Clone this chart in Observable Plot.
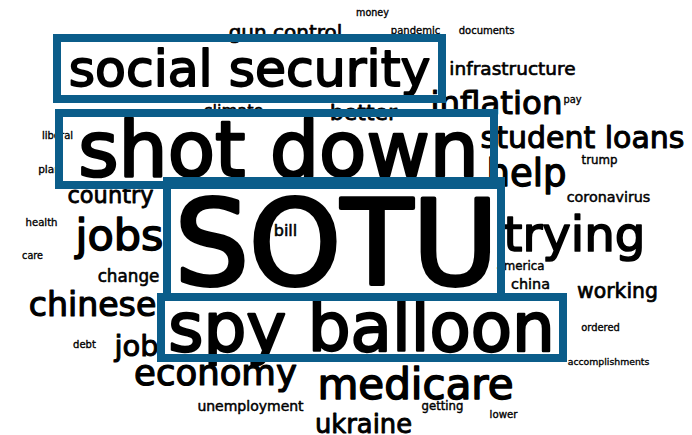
<!DOCTYPE html>
<html>
<head>
<meta charset="utf-8">
<script src="https://cdn.jsdelivr.net/npm/d3@7"></script>
<script src="https://cdn.jsdelivr.net/npm/@observablehq/plot@0.6"></script>
<style>
  html, body { margin: 0; padding: 0; background: #fff; }
  #chart { width: 692px; height: 435px; }
</style>
</head>
<body>
<div id="chart"></div>
<script>
// Word cloud terms, layout position (cloud units: centre x, baseline y) and size
const words = [
  "gun control", "money", "pandemic", "documents", "infrastructure", "inflation", "pay",
  "social security", "climate", "better", "shot down", "student loans", "help", "trump",
  "coronavirus", "trying", "america", "china", "working", "ordered", "accomplishments",
  "country", "liberal", "plan", "health", "care", "jobs", "change", "chinese", "debt",
  "job", "economy", "unemployment", "medicare", "getting", "lower", "ukraine", "bill",
  "SOTU", "spy balloon"
];
const wordX = [
  285, 372, 415, 486, 512, 496, 572,
  249, 233, 363, 278, 582, 526, 599,
  608, 574, 520, 530, 617, 600, 608,
  110, 57, 49, 41, 32, 119, 128, 92, 84,
  136, 215, 250, 415, 442, 503, 363, 285,
  336, 361
];
const wordY = [
  38, 15, 33, 33, 74, 113, 102,
  85, 115, 119, 175, 147, 185, 163,
  201, 250, 269, 288, 297, 330, 364,
  202, 138, 172, 225, 258, 249, 281, 315, 347,
  355, 384, 410, 398, 409, 417, 432, 235,
  283, 350
];
const wordSize = [
  20, 9.6, 10, 10, 18.5, 32.4, 9.8,
  50.5, 16.2, 22, 77.4, 30, 37, 11.8,
  14.3, 48.3, 11.8, 14.4, 20.4, 9.9, 9.3,
  22.5, 10, 10.5, 10.1, 9.6, 43, 16.8, 33.2, 10,
  29, 35.5, 14, 42, 11.7, 10.2, 25.8, 16,
  117, 67.5
];

// Highlight boxes around the key terms (cloud units)
const boxTerm = ["social security", "shot down", "SOTU", "spy balloon"];
const boxX1 = [57, 59, 167, 161];
const boxX2 = [442, 494, 501, 563];
const boxY1 = [38, 113, 181, 297];
const boxY2 = [99, 185, 297, 358];

const cloud = words.map((w, i) => ({word: w, x: wordX[i], y: wordY[i], size: wordSize[i]}));
const boxes = boxTerm.map((t, i) => ({term: t, x1: boxX1[i], x2: boxX2[i], y1: boxY1[i], y2: boxY2[i]}));

const chart = Plot.plot({
  width: 692,
  height: 435,
  margin: 0,
  style: {background: "#fff"},
  x: {domain: [0, 692], range: [0, 692], axis: null},
  y: {domain: [0, 435], range: [0, 435], axis: null},
  marks: [
    Plot.text(cloud, {
      x: "x", y: "y", text: "word",
      fontSize: d => d.size,
      textAnchor: "middle",
      lineAnchor: "bottom",
      fontFamily: "DejaVu Sans",
      fill: "#000",
      stroke: "#000",
      strokeWidth: d => Math.max(0.2, d.size * 0.035),
      strokeLinejoin: "round"
    }),
    Plot.rect(boxes, {
      x1: "x1", x2: "x2", y1: "y1", y2: "y2",
      fill: "none",
      stroke: "#0b5d8a",
      strokeWidth: 8
    })
  ]
});
document.getElementById("chart").appendChild(chart);
</script>
</body>
</html>
